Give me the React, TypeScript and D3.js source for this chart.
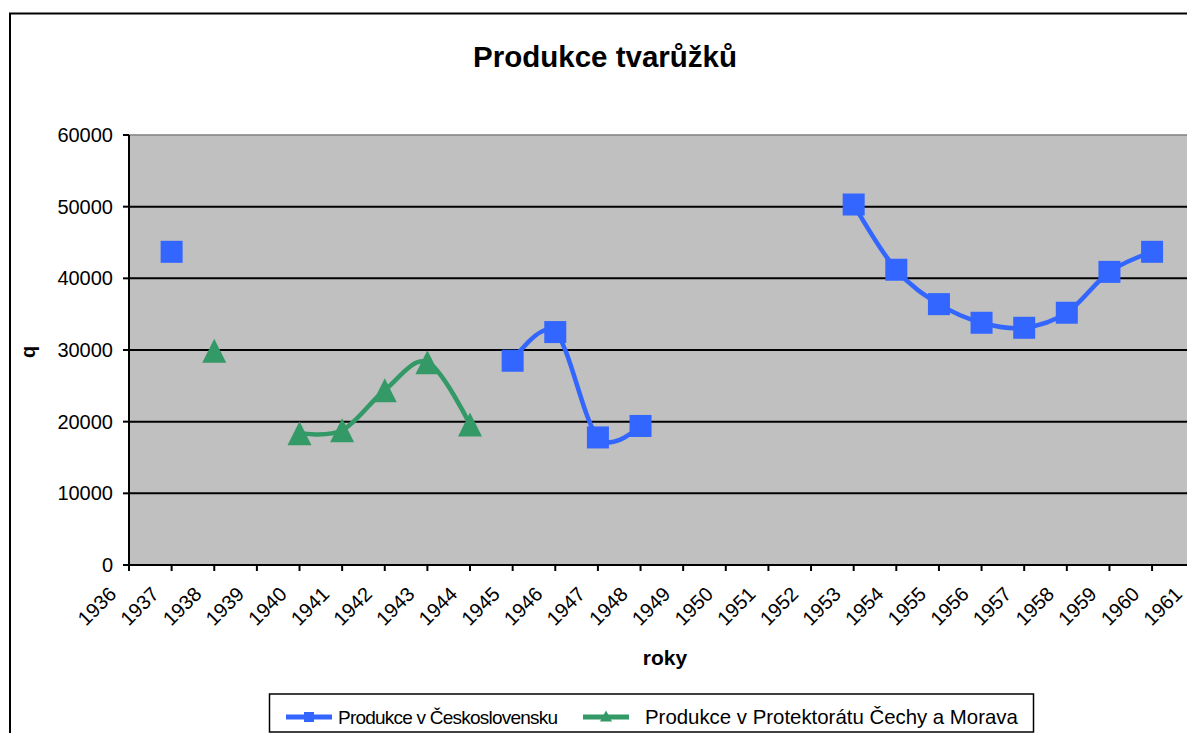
import * as d3 from "d3";

const years = [
  1936, 1937, 1938, 1939, 1940, 1941, 1942, 1943, 1944, 1945, 1946, 1947, 1948,
  1949, 1950, 1951, 1952, 1953, 1954, 1955, 1956, 1957, 1958, 1959, 1960, 1961,
];

// Produkce v Československu
const csValues = [
  null, 43700, null, null, null, null, null, null, null, 28500, 32500, 17800,
  19400, null, null, null, null, 50300, 41200, 36400, 33800, 33100, 35200,
  40900, 43700, null,
];

// Produkce v Protektorátu Čechy a Morava
const protValues = [
  null, null, 29900, null, 18400, 18800, 24400, 28300, 19600, null, null, null,
  null, null, null, null, null, null, null, null, null, null, null, null, null,
  null,
];

const yTicks = [0, 10000, 20000, 30000, 40000, 50000, 60000];

const seriesNames = [
  "Produkce v Československu",
  "Produkce v Protektorátu Čechy a Morava",
];

const BLUE = "#3366FF";
const GREEN = "#339966";
const FONT = "'Liberation Sans', Arial, sans-serif";

function App() {
  const width = 1187;
  const height = 733;
  const plot = { left: 129, right: 1194.7, top: 135, bottom: 565 };

  const x = d3
    .scaleLinear()
    .domain([years[0], years[years.length - 1]])
    .range([plot.left, plot.right]);
  const y = d3.scaleLinear().domain([0, 60000]).range([plot.bottom, plot.top]);

  const line = d3
    .line<{ yr: number; v: number | null }>()
    .defined((d) => d.v != null)
    .x((d) => x(d.yr))
    .y((d) => y(d.v as number))
    .curve(d3.curveCardinal.tension(0));

  const csData = years.map((yr, i) => ({ yr, v: csValues[i] }));
  const protData = years.map((yr, i) => ({ yr, v: protValues[i] }));

  const sq = 22;
  const tri = (cx: number, cy: number, w: number, h: number) =>
    `M${cx},${cy - h / 2}L${cx + w / 2},${cy + h / 2}L${cx - w / 2},${cy + h / 2}Z`;

  return (
    <svg
      width={width}
      height={height}
      style={{ position: "absolute", left: 0, top: 0, background: "#fff" }}
      fontFamily={FONT}
    >
      {/* chart area border */}
      <rect x={10} y={13.5} width={1300} height={800} fill="#fff" stroke="#000" strokeWidth={2} />

      <text x={605} y={67} textAnchor="middle" fontSize={29.5} fontWeight="bold">
        Produkce tvarůžků
      </text>

      {/* plot area */}
      <rect
        x={plot.left}
        y={plot.top}
        width={plot.right - plot.left}
        height={plot.bottom - plot.top}
        fill="#C0C0C0"
        stroke="#808080"
        strokeWidth={1.5}
      />

      {yTicks.slice(1, -1).map((t) => (
        <line key={t} x1={plot.left} x2={plot.right} y1={y(t)} y2={y(t)} stroke="#000" strokeWidth={2} />
      ))}

      {/* y axis */}
      <line x1={plot.left} x2={plot.left} y1={plot.top} y2={plot.bottom} stroke="#000" strokeWidth={2} />
      {yTicks.map((t) => (
        <g key={t} transform={`translate(0,${y(t)})`}>
          <line x1={plot.left - 6} x2={plot.left} stroke="#000" strokeWidth={2} />
          <text x={113} textAnchor="end" dominantBaseline="central" fontSize={20}>
            {t}
          </text>
        </g>
      ))}
      <text transform={`translate(35,352) rotate(-90)`} textAnchor="middle" fontSize={20} fontWeight="bold">
        q
      </text>

      {/* x axis */}
      <line x1={plot.left} x2={plot.right} y1={plot.bottom} y2={plot.bottom} stroke="#000" strokeWidth={2} />
      {years.map((yr) => (
        <g key={yr}>
          <line x1={x(yr)} x2={x(yr)} y1={plot.bottom} y2={plot.bottom + 6} stroke="#000" strokeWidth={2} />
          <text
            transform={`translate(${x(yr) - 16.4},${plot.bottom + 25.4}) rotate(-45)`}
            textAnchor="end"
            dominantBaseline="central"
            fontSize={20}
          >
            {yr}
          </text>
        </g>
      ))}
      <text x={665} y={665} textAnchor="middle" fontSize={21} fontWeight="bold">
        roky
      </text>

      {/* series */}
      <path d={line(csData) || ""} fill="none" stroke={BLUE} strokeWidth={4.5} strokeLinejoin="round" />
      {csData
        .filter((d) => d.v != null)
        .map((d) => (
          <rect key={d.yr} x={x(d.yr) - sq / 2} y={y(d.v as number) - sq / 2} width={sq} height={sq} fill={BLUE} />
        ))}
      <path d={line(protData) || ""} fill="none" stroke={GREEN} strokeWidth={4.5} strokeLinejoin="round" />
      {protData
        .filter((d) => d.v != null)
        .map((d) => (
          <path key={d.yr} d={tri(x(d.yr), y(d.v as number), 24, 24)} fill={GREEN} />
        ))}

      {/* legend */}
      <rect x={269.5} y={694} width={764} height={38} fill="#fff" stroke="#000" strokeWidth={1.5} />
      <line x1={286} x2={332} y1={717} y2={717} stroke={BLUE} strokeWidth={5} />
      <rect x={304} y={712} width={10} height={10} fill={BLUE} />
      <text x={338} y={724} fontSize={19} textLength={220} lengthAdjust="spacing">
        {seriesNames[0]}
      </text>
      <line x1={583} x2={629} y1={717} y2={717} stroke={GREEN} strokeWidth={5} />
      <path d={tri(606, 716, 12, 11)} fill={GREEN} />
      <text x={645} y={724} fontSize={20.4}>
        {seriesNames[1]}
      </text>
    </svg>
  );
}

export default App;
